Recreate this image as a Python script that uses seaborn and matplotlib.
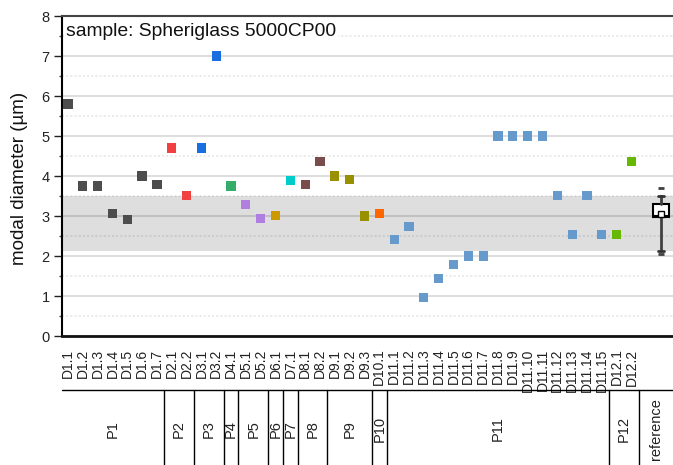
import matplotlib
matplotlib.use("Agg")
import numpy as np
import pandas as pd
import matplotlib.pyplot as plt
import matplotlib.transforms as mtransforms
from matplotlib.ticker import MultipleLocator
import seaborn as sns

sns.set_theme(style="white")
plt.rcParams["font.family"] = ["Liberation Sans", "DejaVu Sans"]

groups = ["P1", "P2", "P3", "P4", "P5", "P6", "P7", "P8", "P9", "P10", "P11", "P12"]
group_sizes = [7, 2, 2, 1, 2, 1, 1, 2, 3, 1, 15, 2]
group_colors = ["#4d4d4d", "#f04040", "#1a6fe0", "#35ad6a", "#b07ee0", "#cc9900",
                "#00cccc", "#7a4d4d", "#999000", "#ff6600", "#6699cc", "#66b800"]

sample_labels = [
    "D1.1", "D1.2", "D1.3", "D1.4", "D1.5", "D1.6", "D1.7",
    "D2.1", "D2.2", "D3.1", "D3.2", "D4.1", "D5.1", "D5.2", "D6.1", "D7.1",
    "D8.1", "D8.2", "D9.1", "D9.2", "D9.3", "D10.1",
    "D11.1", "D11.2", "D11.3", "D11.4", "D11.5", "D11.6", "D11.7", "D11.8",
    "D11.9", "D11.10", "D11.11", "D11.12", "D11.13", "D11.14", "D11.15",
    "D12.1", "D12.2",
]
modal_diameter = [
    5.8, 3.75, 3.75, 3.07, 2.92, 4.0, 3.79,
    4.7, 3.52, 4.7, 7.0, 3.75, 3.29, 2.94, 3.02, 3.89,
    3.79, 4.37, 4.0, 3.92, 3.0, 3.07,
    2.42, 2.74, 0.97, 1.44, 1.79, 2.0, 2.0, 5.0,
    5.0, 5.0, 5.0, 3.52, 2.54, 3.52, 2.54,
    2.54, 4.37,
]

# reference material statistics (box plot)
ref_label = "reference"
ref_q1, ref_median, ref_q3 = 2.97, 3.0, 3.29
ref_mean = 3.05
ref_whisker_low, ref_whisker_high = 2.13, 3.5
ref_min, ref_max = 2.06, 3.71

sample_group = [g for g, n in zip(groups, group_sizes) for _ in range(n)]
df = pd.DataFrame({"label": sample_labels, "group": sample_group,
                   "modal_diameter": modal_diameter})
df["pos"] = np.arange(len(df))
ref_pos = len(df) + 1
palette = dict(zip(groups, group_colors))

fig = plt.figure(figsize=(6.73, 4.65), dpi=100)
ax = fig.add_axes([62 / 673, 129 / 465, 611 / 673, 320 / 465])

ax.axhspan(ref_whisker_low, ref_whisker_high, color="#dedede", lw=0, zorder=0.1)

sns.scatterplot(data=df, x="pos", y="modal_diameter", hue="group", palette=palette,
                marker="s", s=44, linewidth=0, legend=False, ax=ax, zorder=3)

stats = [{"med": ref_median, "q1": ref_q1, "q3": ref_q3, "mean": ref_mean,
          "whislo": ref_whisker_low, "whishi": ref_whisker_high,
          "fliers": [ref_min, ref_max]}]
ax.bxp(stats, positions=[ref_pos], widths=1.05, patch_artist=True, showmeans=True,
       manage_ticks=False, capwidths=0.45, zorder=3,
       boxprops=dict(facecolor="white", edgecolor="black", linewidth=1.5),
       whiskerprops=dict(color="#404040", linewidth=2),
       capprops=dict(color="#333333", linewidth=2),
       medianprops=dict(color="black", linewidth=1.5),
       meanprops=dict(marker="s", markersize=4, markerfacecolor="white",
                      markeredgecolor="black"),
       flierprops=dict(marker="_", markersize=5, markeredgecolor="#404040",
                       markeredgewidth=2))

ax.set_xlim(-0.4, 40.8)
ax.set_ylim(0, 8)
ax.yaxis.set_major_locator(MultipleLocator(1))
ax.yaxis.set_minor_locator(MultipleLocator(0.5))
ax.set_axisbelow(True)
ax.grid(axis="y", which="major", color="black", alpha=0.13, lw=1.5)
ax.grid(axis="y", which="minor", color="black", alpha=0.08, lw=1.5, ls=(0, (1, 1)))

ax.set_xticks(df["pos"])
ax.set_xticklabels(df["label"], rotation=90, fontsize=10, color="#222222")
ax.tick_params(axis="x", length=0, pad=9)
ax.tick_params(axis="y", which="major", left=True, length=6, width=1,
               color="#222222", labelsize=10.5, pad=3, labelcolor="#222222")
ax.tick_params(axis="y", which="minor", left=True, length=2, width=1, color="#444444")
ax.set_xlabel("")
ax.set_ylabel("")

ax.spines["right"].set_visible(False)
ax.spines["left"].set_color("black")
ax.spines["left"].set_linewidth(1.5)
ax.spines["bottom"].set_color("#111111")
ax.spines["bottom"].set_linewidth(2)
ax.spines["top"].set_color("#444444")
ax.spines["top"].set_linewidth(1.5)

fig.text(20 / 673, 1 - 178 / 465, "modal diameter (µm)", rotation=90,
         ha="center", va="center", fontsize=13.5, color="#111111")

ax.text(0.007, 0.953, "sample: Spheriglass 5000CP00", transform=ax.transAxes,
        ha="left", va="center", fontsize=13.9, color="#111111", zorder=4,
        bbox=dict(facecolor="white", edgecolor="none", pad=1))

# group row below the tick labels
blend = mtransforms.blended_transform_factory(ax.transData, ax.transAxes)
y_line = (336 - 390) / 320
y_bottom = (336 - 465) / 320
y_text = (336 - 429) / 320
ax.plot([0, 1], [y_line, y_line], transform=ax.transAxes, color="black",
        lw=1, clip_on=False)

start = -0.4
for g, n in zip(groups + [ref_label], group_sizes + [2]):
    end = start + n if start > 0 else n - 0.5
    if g == ref_label:
        end = 40.8
    else:
        ax.plot([end, end], [y_line, y_bottom], transform=blend, color="black",
                lw=1, clip_on=False)
    ax.text((start + end) / 2, y_text, g, transform=blend, rotation=90,
            ha="center", va="center", fontsize=10.5, color="#222222")
    start = end

fig.savefig("out.png", dpi=100)
